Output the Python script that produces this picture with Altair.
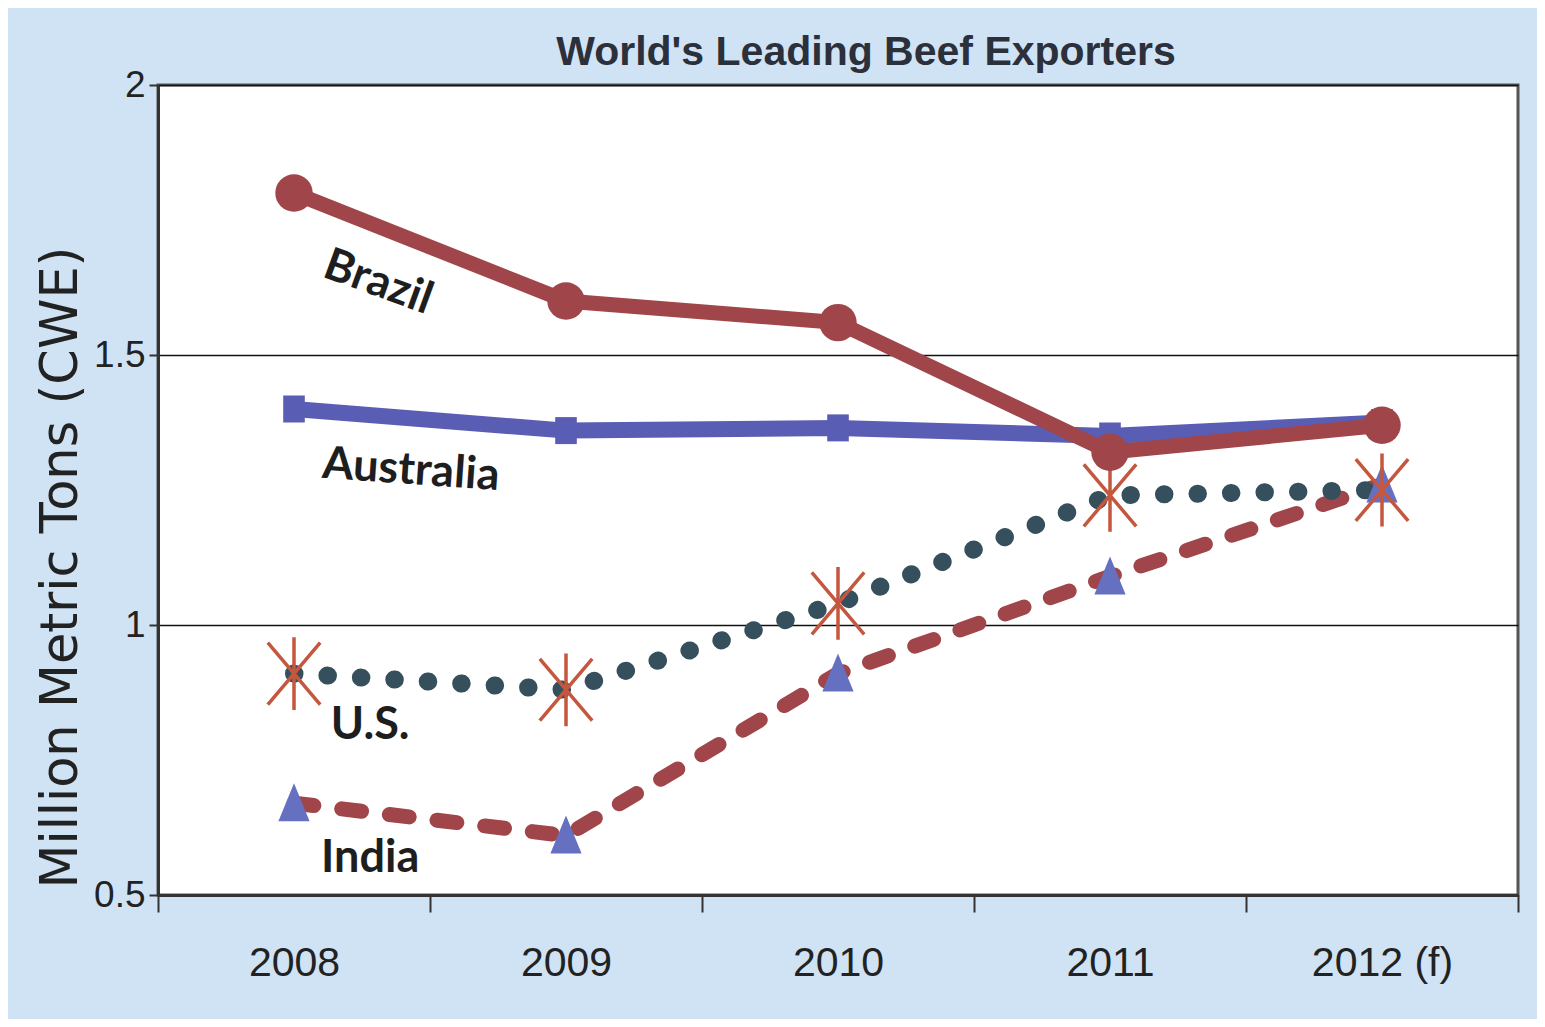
import json
import altair as alt
import pandas as pd

# ---- data ----
years = ["2008", "2009", "2010", "2011", "2012 (f)"]
brazil = [1.80, 1.60, 1.56, 1.32, 1.37]
australia = [1.40, 1.36, 1.365, 1.35, 1.375]
us = [0.91, 0.88, 1.04, 1.24, 1.25]
india = [0.67, 0.61, 0.91, 1.09, 1.26]

# series name annotations (position in data units, rotation in degrees)
label_names = ["Brazil", "Australia", "U.S.", "India"]
label_x = [0.31, 0.43, 0.28, 0.28]
label_y = [1.635, 1.287, 0.815, 0.569]
label_angle = [20, 4, 0, 0]

ARIAL = "'Liberation Sans', Arial, sans-serif"
CALIBRI = "Lato, 'Open Sans', sans-serif"

idx = list(range(len(years)))


def series_df(vals):
    return pd.DataFrame({"i": idx, "year": years, "v": vals})


df_br = series_df(brazil)
df_au = series_df(australia)
df_us = series_df(us)
df_in = series_df(india)
df_lab = pd.DataFrame({"name": label_names, "lx": label_x, "ly": label_y, "ang": label_angle})

tick_vals = [k / 2 - 0.5 for k in range(2 * len(years) + 1)]

xscale = alt.Scale(domain=[-0.5, len(years) - 0.5], nice=False, zero=False)
yscale = alt.Scale(domain=[0.5, 2], nice=False, zero=False)

xaxis = alt.Axis(
    values=tick_vals,
    labelExpr=f"datum.value % 1 == 0 ? {json.dumps(years)}[datum.value] : ''",
    tickOpacity={"condition": {"test": "datum.value % 1 != 0", "value": 1}, "value": 0},
    tickSize=17,
    tickWidth=2,
    tickColor="#333333",
    domainColor="#333333",
    domainWidth=3,
    grid=False,
    labelFont=ARIAL,
    labelFontSize=41,
    labelColor="#222222",
    labelPadding=31,
    labelBaseline="top",
    labelFlush=False,
    labelOverlap=False,
    labelBound=False,
    title=None,
)

yaxis = alt.Axis(
    values=[0.5, 1, 1.5, 2],
    format="~g",
    grid=True,
    gridColor="#111111",
    gridWidth=1.5,
    tickSize=9,
    tickWidth=2,
    tickColor="#333333",
    domainColor="#333333",
    domainWidth=3,
    labelFont=ARIAL,
    labelFontSize=37,
    labelColor="#222222",
    labelPadding=4,
    title="Million Metric Tons (CWE)",
    titleFont="DejaVu Sans",
    titleFontSize=51,
    titleFontWeight="normal",
    titleColor="#222222",
    titleAngle=270,
    titleBaseline="alphabetic",
    titleAlign="center",
    titleX=-82,
    titleY=482,
)

X = alt.X("i:Q", scale=xscale, axis=xaxis)
Y = alt.Y("v:Q", scale=yscale, axis=yaxis)

BR = "#a0464a"
AU = "#5a5db4"
US_DOT = "#35505c"
US_MK = "#c4573e"
IN_LINE = "#a0464a"
IN_MK = "#6670c0"

india_line = alt.Chart(df_in).mark_line(
    color=IN_LINE, strokeWidth=15, strokeCap="round", strokeDash=[20, 28]
).encode(x=X, y=Y)

us_line = alt.Chart(df_us).mark_line(
    color=US_DOT, strokeWidth=18, strokeCap="round", strokeDash=[0.5, 33]
).encode(x=X, y=Y)

india_pts = alt.Chart(df_in).mark_point(
    shape="M0,-1L0.78,0.9L-0.78,0.9Z", filled=True, opacity=1, color=IN_MK, size=1600
).encode(x=X, y=Y)

us_pts = alt.Chart(df_us).mark_point(
    shape="M0,-1L0,1M-0.72,-0.85L0.72,0.85M-0.72,0.85L0.72,-0.85",
    filled=False, opacity=1, color=US_MK, strokeWidth=3.5, size=5300,
).encode(x=X, y=Y)

au_line = alt.Chart(df_au).mark_line(color=AU, strokeWidth=16).encode(x=X, y=Y)
au_pts = alt.Chart(df_au).mark_point(
    shape="M-0.8,-1L0.8,-1L0.8,1L-0.8,1Z", filled=True, opacity=1, color=AU, size=729
).encode(x=X, y=Y)

br_line = alt.Chart(df_br).mark_line(color=BR, strokeWidth=15).encode(x=X, y=Y)
br_pts = alt.Chart(df_br).mark_point(
    shape="circle", filled=True, opacity=1, color=BR, size=1400
).encode(x=X, y=Y)

labels = alt.Chart(df_lab).mark_text(
    font=CALIBRI, fontSize=45, fontWeight="bold", color="#1e1e1e",
    align="center", baseline="middle",
).encode(
    x=alt.X("lx:Q", scale=xscale, axis=xaxis),
    y=alt.Y("ly:Q", scale=yscale, axis=yaxis),
    text="name:N",
    angle=alt.Angle("ang:Q", scale=None),
)

chart = alt.layer(
    india_line, us_line, india_pts, us_pts, au_line, au_pts, br_line, br_pts, labels
).properties(
    width=1360,
    height=810,
    background="#cfe3f5",
    padding={"left": 150, "top": 77, "right": 19, "bottom": 124},
    autosize=alt.AutoSizeParams(type="none"),
    title=alt.TitleParams(
        "World's Leading Beef Exporters",
        font=ARIAL,
        fontSize=41,
        fontWeight="bold",
        color="#2b303b",
        anchor="middle",
        frame="group",
        dx=28,
        offset=-40,
        baseline="alphabetic",
    ),
).configure_view(fill="white", stroke="#555555", strokeWidth=3)

chart.save("out.html", embed_options={"renderer": "svg", "actions": False})
